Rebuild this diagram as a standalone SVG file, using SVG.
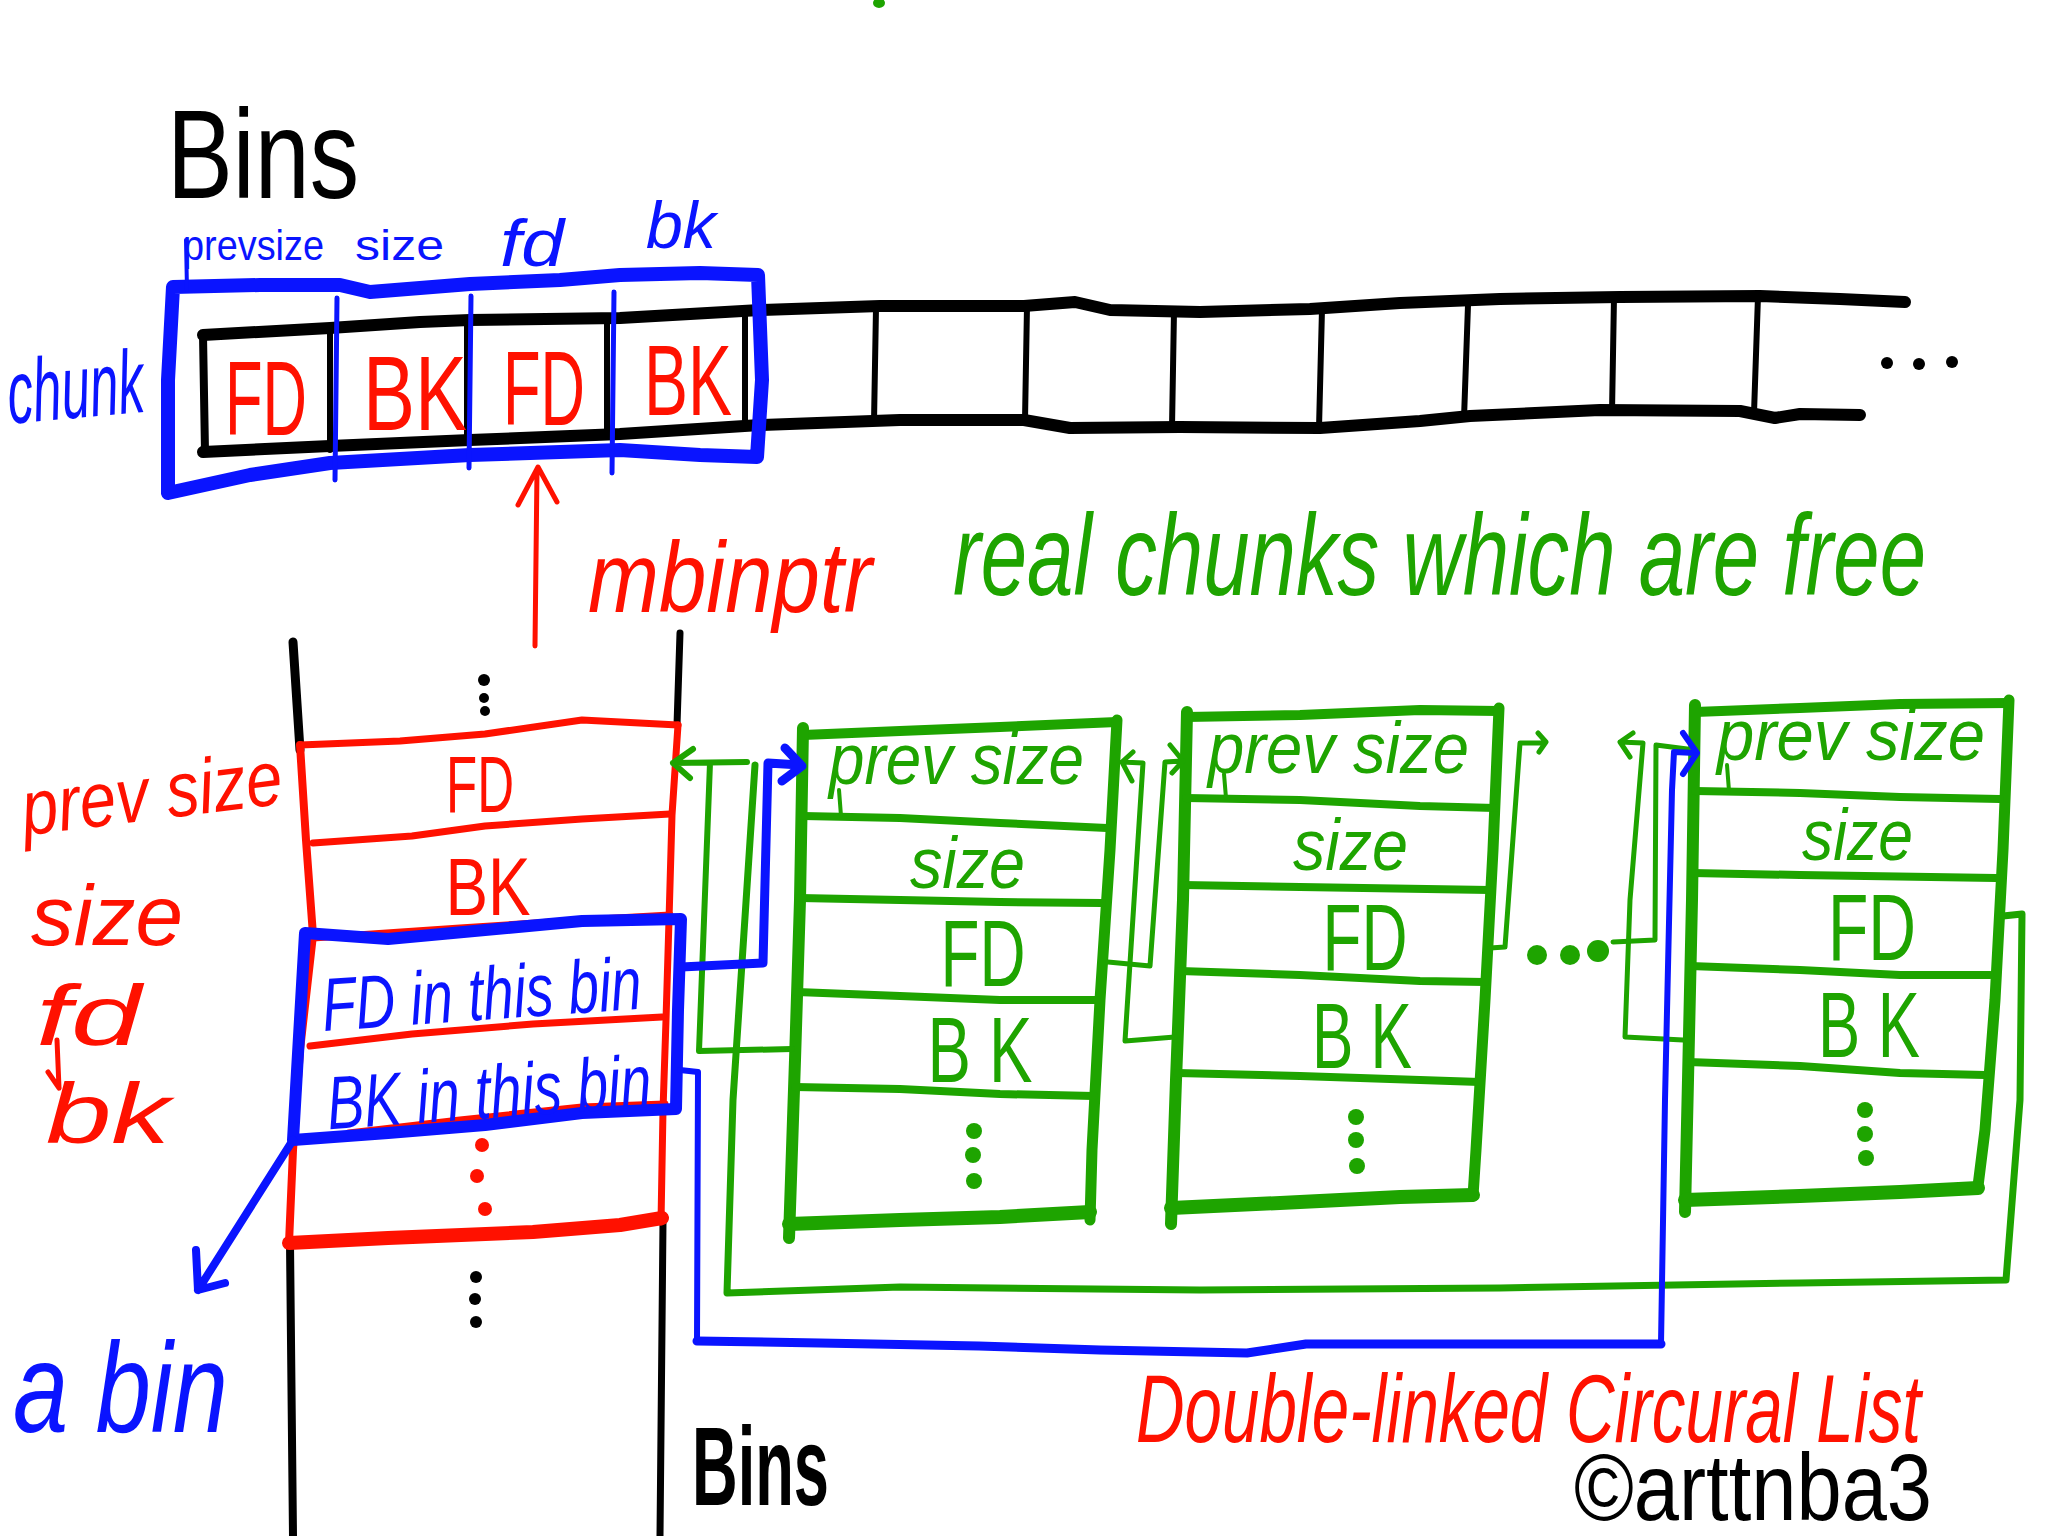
<svg xmlns="http://www.w3.org/2000/svg" width="2048" height="1536" viewBox="0 0 2048 1536">
<style>
.k{stroke:#000;fill:none;stroke-linecap:round;stroke-linejoin:round}
.b{stroke:#0a14ff;fill:none;stroke-linecap:round;stroke-linejoin:round}
.r{stroke:#ff1100;fill:none;stroke-linecap:round;stroke-linejoin:round}
.g{stroke:#1ea400;fill:none;stroke-linecap:round;stroke-linejoin:round}
.t{font-family:"Liberation Sans","DejaVu Sans",sans-serif}
.i{font-style:italic}
.tk{fill:#000}.tb{fill:#0a14ff}.tr{fill:#ff1100}.tg{fill:#1ea400}
.m{text-anchor:middle}
</style>
<rect width="2048" height="1536" fill="#fff"/>

<!-- top bins array -->
<g id="bins-array">
  <path class="k" stroke-width="12" d="M203,335 L330,328 L420,322 L470,320 L620,318 L760,310 L880,306 L1024,306 L1075,302 L1110,310 L1200,312 L1310,309 L1400,303 L1500,299 L1620,297 L1760,296 L1840,299 L1905,302"/>
  <path class="k" stroke-width="12" d="M203,452 L330,446 L470,440 L620,434 L760,425 L900,420 L1024,420 L1070,428 L1180,427 L1320,428 L1420,421 L1470,416 L1600,410 L1740,411 L1775,418 L1800,414 L1860,415"/>
  <path class="k" stroke-width="8" d="M203,335 L205,452"/>
  <path class="k" stroke-width="6" d="M330,333 L330,450 M467,322 L467,440 M607,320 L607,434 M745,314 L745,427 M876,308 L874,422 M1027,306 L1025,420 M1174,311 L1172,427 M1322,309 L1319,428 M1468,305 L1464,418 M1614,297 L1612,412 M1758,296 L1754,413"/>
  <circle cx="1887" cy="363" r="6"/><circle cx="1919" cy="364" r="6"/><circle cx="1952" cy="362" r="6"/>
  <text class="t tr m" x="266" y="435" font-size="105" textLength="82" lengthAdjust="spacingAndGlyphs">FD</text>
  <text class="t tr m" x="415" y="430" font-size="105" textLength="104" lengthAdjust="spacingAndGlyphs">BK</text>
  <text class="t tr m" x="544" y="425" font-size="105" textLength="82" lengthAdjust="spacingAndGlyphs">FD</text>
  <text class="t tr m" x="688" y="415" font-size="100" textLength="88" lengthAdjust="spacingAndGlyphs">BK</text>
</g>

<!-- blue chunk frame -->
<g id="chunk-frame">
  <path class="b" stroke-width="14" d="M173,287 L260,285 L340,285 L370,292 L470,284 L560,280 L620,275 L700,273 L758,275 L762,380 L757,457 L700,455 L620,450 L470,455 L330,463 L250,475 L168,493 L168,380 Z"/>
  <path class="b" stroke-width="5" d="M337,298 L335,480 M471,296 L469,468 M614,292 L612,473"/>
  <path class="b" stroke-width="4" d="M186,240 L187,290"/>
  <text class="t tb" x="183" y="260" font-size="42" textLength="141" lengthAdjust="spacingAndGlyphs">prevsize</text>
  <text class="t tb" x="355" y="260" font-size="42" textLength="89" lengthAdjust="spacingAndGlyphs">size</text>
  <text class="t tb i" x="500" y="266" font-size="66" textLength="64" lengthAdjust="spacingAndGlyphs">fd</text>
  <text class="t tb i" x="646" y="248" font-size="66" textLength="70" lengthAdjust="spacingAndGlyphs">bk</text>
  <text class="t tb i" x="7" y="418" font-size="90" textLength="137" lengthAdjust="spacingAndGlyphs" transform="rotate(-5 75 390)">chunk</text>
</g>

<g id="titles">
  <text class="t tk" x="167" y="198" font-size="126" textLength="192" lengthAdjust="spacingAndGlyphs">Bins</text>
  <text class="t tr i" x="588" y="612" font-size="100" textLength="284" lengthAdjust="spacingAndGlyphs">mbinptr</text>
  <text class="t tg i" x="0" y="0" font-size="92" textLength="973" lengthAdjust="spacingAndGlyphs" transform="translate(953,595) scale(1,1.25)">real chunks which are free</text>
  <ellipse cx="879" cy="3" rx="6" ry="5" fill="#1ea400"/>
  <text class="t tr i" x="0" y="0" font-size="75" textLength="785" lengthAdjust="spacingAndGlyphs" transform="translate(1136,1442) scale(1,1.28)">Double-linked Circural List</text>
  <text class="t tk" x="1574" y="1520" font-size="94" textLength="358" lengthAdjust="spacingAndGlyphs">©arttnba3</text>
  <text class="t tk" x="692" y="1505" font-size="112" font-weight="bold" textLength="137" lengthAdjust="spacingAndGlyphs">Bins</text>
  <text class="t tb i" x="13" y="1432" font-size="128" textLength="215" lengthAdjust="spacingAndGlyphs">a bin</text>
</g>

<!-- bin column -->
<g id="bin-column">
  <path class="k" stroke-width="9" d="M293,642 L300,750"/>
  <path class="k" stroke-width="7" d="M680,633 L677,725"/>
  <path class="k" stroke-width="8" d="M290,1243 L293,1536"/>
  <path class="k" stroke-width="7" d="M663,1222 L660,1536"/>
  <circle cx="484" cy="680" r="6"/><circle cx="484" cy="698" r="5"/><circle cx="485" cy="711" r="5"/>
  <circle cx="476" cy="1277" r="6"/><circle cx="475" cy="1299" r="6"/><circle cx="476" cy="1322" r="6"/>
  <path class="r" stroke-width="8" d="M300,745 L306,840 L313,935 L300,1050 L293,1150 L289,1243"/>
  <path class="r" stroke-width="7" d="M678,725 L672,815 L669,920 L666,1020 L663,1110 L661,1222"/>
  <path class="r" stroke-width="7" d="M300,745 L400,741 L485,734 L582,720 L678,725"/>
  <path class="r" stroke-width="7" d="M313,843 L412,836 L485,826 L582,819 L670,814"/>
  <path class="r" stroke-width="7" d="M313,938 L460,928 L582,920 L670,915"/>
  <path class="r" stroke-width="7" d="M310,1046 L412,1034 L533,1024 L662,1017"/>
  <path class="r" stroke-width="7" d="M349,1133 L460,1120 L582,1107 L665,1104"/>
  <path class="r" stroke-width="14" d="M289,1243 L388,1238 L533,1232 L620,1225 L662,1218"/>
  <text class="t tr m" x="480" y="812" font-size="80" textLength="68" lengthAdjust="spacingAndGlyphs">FD</text>
  <text class="t tr m" x="488" y="915" font-size="82" textLength="85" lengthAdjust="spacingAndGlyphs">BK</text>
  <circle cx="482" cy="1145" r="7" fill="#ff1100"/><circle cx="477" cy="1176" r="7" fill="#ff1100"/><circle cx="485" cy="1209" r="7" fill="#ff1100"/>
  <text class="t tr i" x="22" y="820" font-size="78" textLength="262" lengthAdjust="spacingAndGlyphs" transform="rotate(-7 150 805)">prev size</text>
  <text class="t tr i" x="31" y="945" font-size="85" textLength="152" lengthAdjust="spacingAndGlyphs">size</text>
  <text class="t tr i" x="36" y="1045" font-size="86" textLength="105" lengthAdjust="spacingAndGlyphs">fd</text>
  <path class="r" stroke-width="5" d="M57,1040 L59,1088 M48,1072 L59,1088"/>
  <text class="t tr i" x="46" y="1143" font-size="86" textLength="124" lengthAdjust="spacingAndGlyphs">bk</text>
</g>

<g id="a-bin">
  <path class="b" stroke-width="12" d="M305,933 L388,939 L485,930 L582,921 L681,919 L678,1010 L676,1109 L582,1113 L485,1125 L388,1133 L293,1140 Z"/>
  <text class="t tb i" x="322" y="1020" font-size="75" textLength="320" lengthAdjust="spacingAndGlyphs" transform="rotate(-4 480 1000)">FD in this bin</text>
  <text class="t tb i" x="327" y="1118" font-size="75" textLength="325" lengthAdjust="spacingAndGlyphs" transform="rotate(-4 490 1100)">BK in this bin</text>
</g>

<!-- chunk 1 -->
<g id="chunk1">
  <path class="g" stroke-width="10" d="M803,735 L900,731 L1000,727 L1117,722"/>
  <path class="g" stroke-width="12" d="M803,728 L800,900 L795,1060 L789,1238"/>
  <path class="g" stroke-width="11" d="M1117,720 L1110,850 L1100,1000 L1092,1150 L1090,1220"/>
  <path class="g" stroke-width="14" d="M789,1224 L900,1220 L1000,1217 L1090,1212"/>
  <path class="g" stroke-width="8" d="M803,816 L900,818 L1000,823 L1107,828 M800,898 L1000,902 L1102,903 M797,992 L900,996 L1000,1000 L1097,1000 M795,1087 L900,1089 L1000,1094 L1094,1096"/>
  <path class="g" stroke-width="4" d="M839,790 L841,816"/>
  <text class="t tg i" x="829" y="784" font-size="72" textLength="255" lengthAdjust="spacingAndGlyphs">prev  size</text>
  <text class="t tg i" x="910" y="888" font-size="72" textLength="115" lengthAdjust="spacingAndGlyphs">size</text>
  <text class="t tg m" x="983" y="986" font-size="95" textLength="85" lengthAdjust="spacingAndGlyphs">FD</text>
  <text class="t tg m" x="980" y="1082" font-size="92" textLength="105" lengthAdjust="spacingAndGlyphs">B K</text>
  <circle cx="974" cy="1131" r="8" fill="#1ea400"/><circle cx="973" cy="1155" r="8" fill="#1ea400"/><circle cx="974" cy="1181" r="8" fill="#1ea400"/>
</g>

<!-- chunk 2 -->
<g id="chunk2">
  <path class="g" stroke-width="10" d="M1186,717 L1300,715 L1420,710 L1499,711"/>
  <path class="g" stroke-width="12" d="M1187,712 L1183,900 L1176,1080 L1171,1224"/>
  <path class="g" stroke-width="11" d="M1499,708 L1493,850 L1485,1000 L1476,1150 L1473,1196"/>
  <path class="g" stroke-width="14" d="M1171,1208 L1300,1202 L1400,1197 L1473,1195"/>
  <path class="g" stroke-width="8" d="M1186,798 L1300,800 L1420,806 L1495,808 M1183,885 L1300,887 L1490,890 M1180,971 L1300,975 L1420,981 L1485,982 M1177,1073 L1300,1076 L1480,1082"/>
  <path class="g" stroke-width="4" d="M1224,774 L1226,798"/>
  <text class="t tg i" x="1208" y="773" font-size="72" textLength="261" lengthAdjust="spacingAndGlyphs">prev  size</text>
  <text class="t tg i" x="1293" y="870" font-size="72" textLength="115" lengthAdjust="spacingAndGlyphs">size</text>
  <text class="t tg m" x="1365" y="970" font-size="95" textLength="85" lengthAdjust="spacingAndGlyphs">FD</text>
  <text class="t tg m" x="1362" y="1068" font-size="92" textLength="100" lengthAdjust="spacingAndGlyphs">B K</text>
  <circle cx="1356" cy="1117" r="8" fill="#1ea400"/><circle cx="1356" cy="1140" r="8" fill="#1ea400"/><circle cx="1357" cy="1166" r="8" fill="#1ea400"/>
</g>

<!-- chunk 3 -->
<g id="chunk3">
  <path class="g" stroke-width="10" d="M1695,712 L1800,708 L1900,704 L2009,703"/>
  <path class="g" stroke-width="12" d="M1695,705 L1692,900 L1688,1080 L1685,1212"/>
  <path class="g" stroke-width="11" d="M2009,700 L2003,850 L1995,1000 L1985,1130 L1978,1186"/>
  <path class="g" stroke-width="14" d="M1685,1200 L1800,1196 L1900,1192 L1978,1188"/>
  <path class="g" stroke-width="8" d="M1695,791 L1800,793 L1900,797 L2000,799 M1692,873 L1800,875 L1996,878 M1690,966 L1800,970 L1900,975 L1990,975 M1688,1062 L1800,1066 L1900,1073 L1985,1075"/>
  <path class="g" stroke-width="4" d="M1727,765 L1729,791"/>
  <text class="t tg i" x="1717" y="760" font-size="72" textLength="268" lengthAdjust="spacingAndGlyphs">prev  size</text>
  <text class="t tg i" x="1802" y="860" font-size="72" textLength="111" lengthAdjust="spacingAndGlyphs">size</text>
  <text class="t tg m" x="1872" y="960" font-size="95" textLength="88" lengthAdjust="spacingAndGlyphs">FD</text>
  <text class="t tg m" x="1869" y="1057" font-size="92" textLength="102" lengthAdjust="spacingAndGlyphs">B K</text>
  <circle cx="1865" cy="1110" r="8" fill="#1ea400"/><circle cx="1865" cy="1134" r="8" fill="#1ea400"/><circle cx="1866" cy="1158" r="8" fill="#1ea400"/>
</g>

<!-- connectors -->
<g id="connectors">
  <path class="g" stroke-width="6" d="M792,1049 L699,1051 L710,763 M747,762 L673,763 M693,749 L673,763 L690,778"/>
  <path class="g" stroke-width="7" d="M2003,916 L2022,914 L2020,1100 L2006,1280 L1800,1283 L1500,1288 L1200,1290 L900,1287 L727,1293 L733,1100 L755,765"/>
  <path class="g" stroke-width="5" d="M1108,962 L1150,966 L1165,762 L1182,761 M1170,745 L1183,761 L1172,773"/>
  <path class="g" stroke-width="5" d="M1175,1037 L1125,1041 L1130,963 L1143,763 L1122,762 M1133,752 L1122,762 L1132,781"/>
  <path class="g" stroke-width="5" d="M1490,948 L1505,947 L1520,743 L1545,743 M1538,733 L1546,742 L1539,752"/>
  <circle cx="1537" cy="955" r="10" fill="#1ea400"/><circle cx="1570" cy="955" r="10" fill="#1ea400"/><circle cx="1598" cy="951" r="11" fill="#1ea400"/>
  <path class="g" stroke-width="5" d="M1613,942 L1655,940 L1656,745 L1695,750"/>
  <path class="g" stroke-width="5" d="M1683,1040 L1625,1037 L1630,900 L1643,743 L1620,742 M1633,733 L1620,742 L1630,757"/>
  <path class="b" stroke-width="9" d="M681,967 L763,963 L768,763 L800,765 M785,748 L802,766 L782,781"/>
  <path class="b" stroke-width="6" d="M680,1070 L698,1072 L697,1341"/>
  <path class="b" stroke-width="9" d="M697,1341 L820,1343 L979,1346 L1100,1350 L1247,1353 L1306,1344 L1661,1344"/>
  <path class="b" stroke-width="6" d="M1661,1344 L1665,1100 L1672,790 L1674,752 L1695,753 M1683,733 L1697,753 L1683,774"/>
  <path class="r" stroke-width="5" d="M535,646 L537,470 M518,505 L538,467 L557,502"/>
  <path class="b" stroke-width="8" d="M293,1140 L198,1290 M196,1250 L198,1290 L225,1283"/>
</g>
</svg>
